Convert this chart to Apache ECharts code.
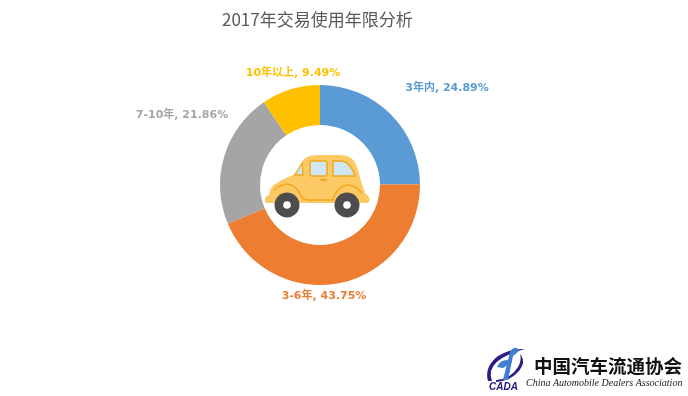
<!DOCTYPE html>
<html><head><meta charset="utf-8">
<style>html,body{margin:0;padding:0;background:#fff}#c{width:688px;height:396px}</style>
<script src="https://cdn.jsdelivr.net/npm/echarts@6/dist/echarts.min.js"></script>
</head><body><div id="c"></div>
<script>
const categories = ['3年内','3-6年','7-10年','10年以上'];
const shares = [24.89,43.75,21.86,9.49];
const colors = ['#5B9BD5','#ED7D31','#A5A5A5','#FFC000'];
const labelCenters = [[447,88],[324,296],[182,115],[293,73]];
const titleText = '2017年交易使用年限分析';
const cjk = '"Noto Sans CJK SC",sans-serif';
const chart = echarts.init(document.getElementById('c'));
const shapes = {
  carBody:'M266 203 Q263 199 267 196 L269 195 Q270 187 275 184 Q285 178 293 175 Q297 172 300 166 Q303 158 309 156 Q313 155 320 155 L340 155 Q350 155 354 161 Q358 167 360 178 L365 193 L369 197 Q371 201 367 203 Z',
  carLine:'M274 190 Q279 185 287 184 Q296 185 300 194 Q302 200 308 200 L333 200 Q336 187 347 185 Q357 186 362 193',
  winA:'M295 175 L302 163 L303 175 Z',
  winC:'M333 161 L342 161 Q351 163 355 176 L333 176 Z',
  logoA:'M488 381 Q484 367 498 356 Q511 348 525 349 Q516 351 508 355 Q494 361 491 371 Q490 376 492 381 Z',
  logoB:'M496 380 Q511 379 518 367 Q522 360 520 354 Q527 362 518 372 Q510 381 496 382 Z',
  logoC:'M503 380 L510 352 Q513 347 517 348 L519 351 L513 356 L508 380 Z',
  logoD:'M497 367 Q500 360 507 360 L512 362 L503 368 Z'
};
Object.keys(shapes).forEach(k=>echarts.graphic.registerShape(k,echarts.graphic.extendPath(shapes[k],{})));
chart.setOption({
  animation:false,
  title:{text:titleText,left:217,top:6,textStyle:{fontFamily:cjk,fontSize:17,fontWeight:'normal',color:'#595959'}},
  series:[{
    type:'pie',center:[320,185],radius:[60,100],startAngle:90,clockwise:true,silent:true,
    itemStyle:{borderWidth:0},
    label:{show:true,position:'outside',formatter:p=>p.name+', '+p.value.toFixed(2)+'%',fontFamily:'"DejaVu Sans",'+cjk,fontWeight:'bold',fontSize:11},
    labelLine:{show:false},
    labelLayout:p=>({x:labelCenters[p.dataIndex][0],y:labelCenters[p.dataIndex][1],align:'center',verticalAlign:'middle'}),
    data:categories.map((n,i)=>({name:n,value:shares[i],itemStyle:{color:colors[i]},label:{color:colors[i]}}))
  }],
  graphic:[
    {type:'carBody',style:{fill:'#FDC964'}},
    {type:'carLine',style:{fill:'none',stroke:'#F0A81E',lineWidth:1.5}},
    {type:'winA',style:{fill:'#CFE6F3',stroke:'#F0A81E',lineWidth:1.3}},
    {type:'rect',shape:{x:310,y:161,width:17,height:15,r:2},style:{fill:'#CFE6F3',stroke:'#F0A81E',lineWidth:1.5}},
    {type:'winC',style:{fill:'#CFE6F3',stroke:'#F0A81E',lineWidth:1.5}},
    {type:'rect',shape:{x:320,y:179,width:7,height:2,r:1},style:{fill:'#F0A81E'}},
    {type:'circle',shape:{cx:287,cy:205,r:12.5},style:{fill:'#4D4D4D'}},
    {type:'circle',shape:{cx:287,cy:205,r:3.8},style:{fill:'#fff'}},
    {type:'circle',shape:{cx:347,cy:205,r:12.5},style:{fill:'#4D4D4D'}},
    {type:'circle',shape:{cx:347,cy:205,r:3.8},style:{fill:'#fff'}},
    {type:'logoA',style:{fill:'#2B1F87'}},
    {type:'logoB',style:{fill:'#2B1F87'}},
    {type:'logoC',style:{fill:'#3F7FD0'}},
    {type:'logoD',style:{fill:'#3F7FD0'}},
    {type:'text',style:{x:489,y:382,text:'CADA',font:'italic bold 10px "Liberation Sans"',fill:'#1E1580'}},
    {type:'text',style:{x:534,y:357,text:'中国汽车流通协会',font:'bold 18.5px "Noto Sans CJK SC"',fill:'#111'}},
    {type:'text',style:{x:526,y:378,text:'China Automobile Dealers Association',font:'italic 10px "Liberation Serif"',fill:'#222'}}
  ]
});
</script></body></html>
